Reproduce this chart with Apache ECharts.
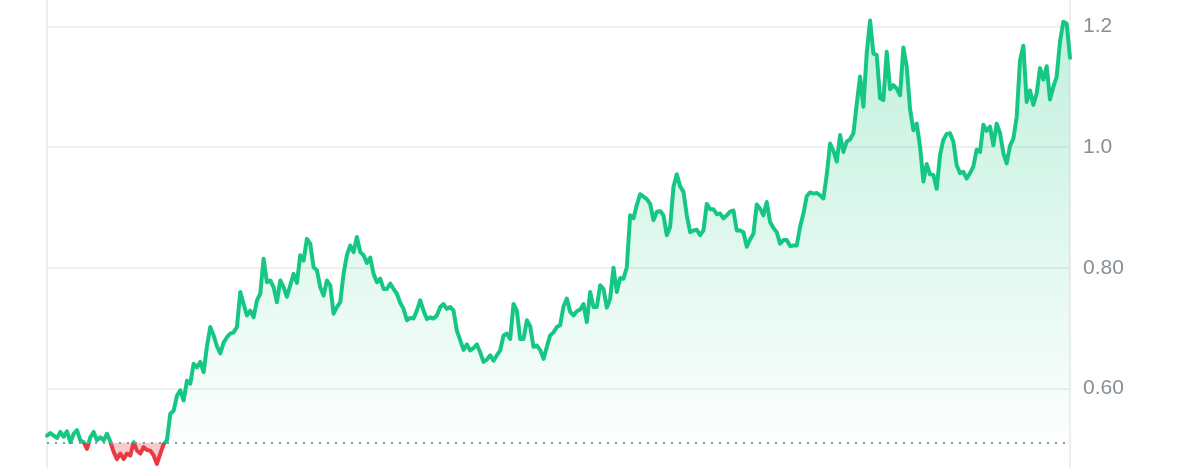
<!DOCTYPE html>
<html>
<head>
<meta charset="utf-8">
<script src="https://cdn.jsdelivr.net/npm/echarts@6/dist/echarts.min.js"></script>
<style>
html,body{margin:0;padding:0;background:#fff;}
#chart{width:1200px;height:468px;}
</style>
</head>
<body>
<div id="chart"></div>
<script>
// Price series, left to right (evenly spaced samples)
var prices = [
0.522,0.526,0.522,0.518,0.528,0.520,0.529,0.511,0.525,0.531,
0.514,0.511,0.500,0.519,0.528,0.514,0.519,0.514,0.525,0.512,
0.495,0.483,0.492,0.483,0.492,0.489,0.511,0.497,0.492,0.503,
0.498,0.497,0.489,0.475,0.492,0.508,0.514,0.558,0.563,0.588,
0.597,0.580,0.613,0.608,0.641,0.635,0.644,0.627,0.670,0.702,
0.688,0.670,0.658,0.676,0.685,0.691,0.693,0.702,0.760,0.740,
0.721,0.729,0.718,0.746,0.757,0.815,0.776,0.779,0.768,0.743,
0.779,0.768,0.752,0.771,0.790,0.775,0.821,0.812,0.848,0.840,
0.801,
0.796,0.768,0.754,0.779,0.771,0.724,0.735,0.743,0.790,0.821,
0.837,0.826,0.851,0.826,0.821,0.808,0.817,0.790,0.776,0.782,
0.765,0.765,0.774,0.765,0.757,0.742,0.732,0.713,0.717,0.716,
0.729,0.746,0.729,0.715,0.718,0.716,0.721,0.735,0.740,0.732,
0.735,0.729,0.696,0.680,0.664,0.673,0.663,0.667,0.673,0.660,
0.644,0.648,0.655,0.646,0.655,0.663,0.688,0.691,0.682,0.740,
0.729,0.682,0.682,0.713,0.703,0.669,0.671,0.664,0.649,0.669,
0.688,0.693,0.702,0.705,0.736,0.749,
0.727,0.721,0.728,0.731,0.740,0.710,0.760,0.735,0.735,0.771,
0.765,0.734,0.749,0.800,0.760,0.783,0.782,0.801,0.887,0.882,
0.904,0.922,0.918,0.914,0.906,0.879,0.893,0.894,0.887,0.854,
0.868,0.934,0.955,0.935,0.926,0.887,0.859,0.862,0.863,0.854,
0.862,0.906,0.897,0.897,0.889,0.890,0.882,0.887,0.893,0.895,
0.862,0.862,0.859,0.835,0.847,0.857,0.905,0.898,0.887,0.909,
0.876,0.866,0.859,0.840,0.846,0.846,0.836,0.837,0.837,0.868,
0.890,0.919,0.925,0.923,0.924,0.920,0.915,0.954,
1.006,0.994,0.976,1.020,0.992,1.009,1.013,1.023,1.071,1.117,
1.067,1.156,1.210,1.155,1.153,1.081,1.078,1.158,1.096,1.103,
1.097,1.086,1.165,1.133,1.063,1.028,1.039,1.001,0.943,0.972,
0.955,0.954,0.931,0.987,1.012,1.022,1.023,1.009,0.970,0.957,
0.959,0.948,0.957,0.968,0.996,0.992,1.037,1.027,1.034,1.003,
1.039,1.023,0.990,0.973,1.002,1.014,1.050,1.144,1.168,1.075,
1.094,1.070,1.089,1.131,1.112,1.134,1.079,1.100,1.117,1.175,
1.208,1.205,1.148
];
var baseline = 0.51;
var yTickValues = [0.6, 0.8, 1.0, 1.2];
var yTickLabels = ['0.60', '0.80', '1.0', '1.2'];
var yMin = 0.4682, yMax = 1.2439;

var categories = prices.map(function (_, i) { return i; });
var upArea = prices.map(function (v) { return Math.max(v, baseline); });
var downArea = prices.map(function (v) { return Math.min(v, baseline); });

var GREEN = '#16c784', RED = '#ea3943';

var gridLines = yTickValues.map(function (v, i) {
  return {yAxis: v, label: {formatter: yTickLabels[i]}};
});

var chart = echarts.init(document.getElementById('chart'), null, {renderer: 'canvas'});
var yAxisBase = {
  type: 'value', min: yMin, max: yMax,
  axisLine: {show: true, lineStyle: {color: '#eeeeee', width: 2}},
  axisTick: {show: false}, axisLabel: {show: false}, splitLine: {show: false}
};
chart.setOption({
  animation: false,
  backgroundColor: '#ffffff',
  grid: {left: 47, right: 130, top: 0, bottom: 0, containLabel: false},
  xAxis: {type: 'category', data: categories, boundaryGap: false, show: false},
  yAxis: [
    Object.assign({position: 'right'}, yAxisBase),
    Object.assign({position: 'left'}, yAxisBase)
  ],
  series: [{
    type: 'line', data: upArea, symbol: 'none', silent: true, z: 1,
    lineStyle: {width: 0, opacity: 0},
    areaStyle: {
      origin: baseline,
      color: new echarts.graphic.LinearGradient(0, 0, 0, 1, [
        {offset: 0, color: 'rgba(22,199,132,0.38)'},
        {offset: 1, color: 'rgba(22,199,132,0.02)'}
      ])
    },
    markLine: {
      silent: true, symbol: 'none', z: 0,
      lineStyle: {color: '#f0f0f0', width: 2, type: 'solid'},
      label: {
        show: true, position: 'end', distance: 13, color: '#878f97', fontSize: 21,
        fontFamily: 'Liberation Sans, Arial, sans-serif'
      },
      data: gridLines
    }
  }, {
    type: 'line', data: downArea, symbol: 'none', silent: true, z: 1,
    lineStyle: {width: 0, opacity: 0},
    areaStyle: {origin: baseline, color: 'rgba(234,57,67,0.38)'}
  }, {
    type: 'line', data: prices, symbol: 'none', silent: true, z: 3,
    lineStyle: {width: 4, join: 'round', cap: 'round', color: GREEN},
    markLine: {
      silent: true, symbol: 'none', label: {show: false},
      lineStyle: {color: '#8f979e', width: 2, type: [2, 6]},
      data: [{yAxis: baseline}]
    }
  }]
});

// Split line colour at the baseline: green above, red below
var by = chart.convertToPixel({yAxisIndex: 0}, baseline);
var f = by / 468;
chart.setOption({
  series: [{}, {}, {
    lineStyle: {
      color: new echarts.graphic.LinearGradient(0, 0, 0, 468, [
        {offset: 0, color: GREEN},
        {offset: f, color: GREEN},
        {offset: f, color: RED},
        {offset: 1, color: RED}
      ], true)
    }
  }]
});
</script>
</body>
</html>
